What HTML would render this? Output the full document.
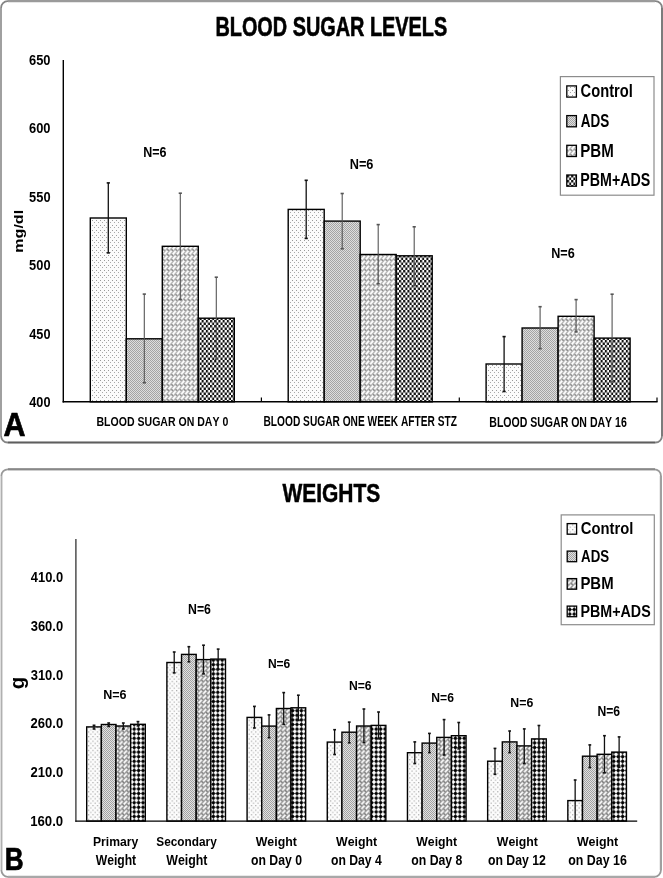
<!DOCTYPE html>
<html><head><meta charset="utf-8"><title>Blood sugar and weights</title>
<style>
html,body{margin:0;padding:0;background:#fff;}
body{width:663px;height:878px;overflow:hidden;}
svg{display:block;filter:grayscale(1);}
text{font-family:"Liberation Sans",sans-serif;font-weight:bold;font-kerning:none;font-feature-settings:"kern" 0;}
</style></head>
<body>
<svg width="663" height="878" viewBox="0 0 663 878">

<defs>
 <pattern id="pa0" width="4" height="5" patternUnits="userSpaceOnUse">
  <rect width="4" height="5" fill="#fbfbfb"/>
  <rect x="0" y="0" width="1" height="1" fill="#9a9a9a"/>
  <rect x="2" y="2" width="1" height="1" fill="#a8a8a8"/>
 </pattern>
 <pattern id="pa1" width="2" height="2" patternUnits="userSpaceOnUse">
  <rect width="2" height="2" fill="#dedede"/>
  <rect x="0" y="0" width="1" height="1" fill="#a4a4a4"/>
  <rect x="1" y="1" width="1" height="1" fill="#a4a4a4"/>
 </pattern>
 <pattern id="pa2" width="4.2" height="5" patternUnits="userSpaceOnUse">
  <rect width="4.2" height="5" fill="#b4b4b4"/>
  <g stroke="#fff" stroke-width="1.7" stroke-linecap="round">
   <path d="M0.75,4.1 L3.45,0.9"/>
  </g>
  <g fill="#5a5a5a">
   <circle cx="0" cy="0" r="0.7"/><circle cx="4.2" cy="0" r="0.7"/><circle cx="0" cy="5" r="0.7"/><circle cx="4.2" cy="5" r="0.7"/>
  </g>
 </pattern>
 <pattern id="pa3" width="4.2" height="5" patternUnits="userSpaceOnUse">
  <rect width="4.2" height="5" fill="#fff"/>
  <rect x="0" y="0" width="2.1" height="2.5" fill="#111"/>
  <rect x="2.1" y="2.5" width="2.1" height="2.5" fill="#111"/>
 </pattern>
 <pattern id="pb0" width="4.4" height="4.6" patternUnits="userSpaceOnUse">
  <rect width="4.4" height="4.6" fill="#fcfcfc"/>
  <rect x="0" y="0" width="1.2" height="1.2" fill="#a8a8a8"/>
  <rect x="2.2" y="2.3" width="1.2" height="1.2" fill="#b0b0b0"/>
 </pattern>
 <pattern id="pb1" width="2" height="2" patternUnits="userSpaceOnUse">
  <rect width="2" height="2" fill="#e2e2e2"/>
  <rect x="0" y="0" width="1" height="1" fill="#a2a2a2"/>
  <rect x="1" y="1" width="1" height="1" fill="#a2a2a2"/>
 </pattern>
 <pattern id="pb2" width="4.4" height="4.6" patternUnits="userSpaceOnUse">
  <rect width="4.4" height="4.6" fill="#9a9a9a"/>
  <g stroke="#fff" stroke-width="1.6" stroke-linecap="round">
   <path d="M0.8,3.75 L3.6,0.85"/>
  </g>
  <g fill="#4a4a4a">
   <circle cx="0" cy="0" r="0.7"/><circle cx="4.4" cy="0" r="0.7"/><circle cx="0" cy="4.6" r="0.7"/><circle cx="4.4" cy="4.6" r="0.7"/>
  </g>
 </pattern>
 <pattern id="pb3" width="4.4" height="4.6" patternUnits="userSpaceOnUse">
  <rect width="4.4" height="4.6" fill="#fff"/>
  <path d="M2.2,0.05 L4.35,2.3 L2.2,4.55 L0.05,2.3 Z" fill="#000"/>
 </pattern>
</defs>

<rect width="663" height="878" fill="#fff"/>
<rect x="1.1" y="1.2" width="660.9" height="441.3" rx="6.5" ry="6.5" fill="#fff" stroke="#858585" stroke-width="1.8"/>
<line x1="1.00" y1="8.00" x2="1.00" y2="436.00" stroke="#a0a0a0" stroke-width="2.0"/>
<line x1="8.00" y1="1.20" x2="655.00" y2="1.20" stroke="#9a9a9a" stroke-width="2.3"/>
<line x1="662.00" y1="8.00" x2="662.00" y2="436.00" stroke="#7c7c7c" stroke-width="2.0"/>
<line x1="8.00" y1="442.50" x2="655.00" y2="442.50" stroke="#5e5e5e" stroke-width="1.4"/>
<rect x="1.4" y="469.3" width="659.5" height="407.5" rx="6.5" ry="6.5" fill="#fff" stroke="#999" stroke-width="1.8"/>
<line x1="0.50" y1="476.00" x2="0.50" y2="870.00" stroke="#e4e4e4" stroke-width="1.0"/>
<line x1="1.50" y1="476.00" x2="1.50" y2="870.00" stroke="#b0b0b0" stroke-width="1.2"/>
<line x1="8.00" y1="469.30" x2="655.00" y2="469.30" stroke="#888" stroke-width="2.0"/>
<line x1="660.90" y1="476.00" x2="660.90" y2="870.00" stroke="#a0a0a0" stroke-width="2.2"/>
<line x1="8.00" y1="876.90" x2="655.00" y2="876.90" stroke="#a8a8a8" stroke-width="2.4"/>
<rect x="90.30" y="218.00" width="36.00" height="183.80" fill="url(#pa0)" stroke="#000" stroke-width="1.4"/>
<rect x="126.30" y="338.80" width="36.00" height="63.00" fill="url(#pa1)" stroke="#000" stroke-width="1.4"/>
<rect x="162.30" y="246.30" width="36.00" height="155.50" fill="url(#pa2)" stroke="#000" stroke-width="1.4"/>
<rect x="198.30" y="318.20" width="36.00" height="83.60" fill="url(#pa3)" stroke="#000" stroke-width="1.4"/>
<rect x="288.20" y="209.40" width="36.00" height="192.40" fill="url(#pa0)" stroke="#000" stroke-width="1.4"/>
<rect x="324.20" y="221.10" width="36.00" height="180.70" fill="url(#pa1)" stroke="#000" stroke-width="1.4"/>
<rect x="360.20" y="254.50" width="36.00" height="147.30" fill="url(#pa2)" stroke="#000" stroke-width="1.4"/>
<rect x="396.20" y="255.80" width="36.00" height="146.00" fill="url(#pa3)" stroke="#000" stroke-width="1.4"/>
<rect x="486.10" y="364.00" width="36.00" height="37.80" fill="url(#pa0)" stroke="#000" stroke-width="1.4"/>
<rect x="522.10" y="328.00" width="36.00" height="73.80" fill="url(#pa1)" stroke="#000" stroke-width="1.4"/>
<rect x="558.10" y="316.30" width="36.00" height="85.50" fill="url(#pa2)" stroke="#000" stroke-width="1.4"/>
<rect x="594.10" y="338.10" width="36.00" height="63.70" fill="url(#pa3)" stroke="#000" stroke-width="1.4"/>
<line x1="108.30" y1="182.90" x2="108.30" y2="252.90" stroke="#111" stroke-width="1.3"/>
<line x1="106.70" y1="182.90" x2="109.90" y2="182.90" stroke="#111" stroke-width="1.6"/>
<line x1="106.70" y1="252.90" x2="109.90" y2="252.90" stroke="#111" stroke-width="1.6"/>
<line x1="144.30" y1="294.10" x2="144.30" y2="382.80" stroke="#555" stroke-width="1.1"/>
<line x1="142.70" y1="294.10" x2="145.90" y2="294.10" stroke="#555" stroke-width="1.6"/>
<line x1="142.70" y1="382.80" x2="145.90" y2="382.80" stroke="#555" stroke-width="1.6"/>
<line x1="180.30" y1="193.20" x2="180.30" y2="299.40" stroke="#555" stroke-width="1.1"/>
<line x1="178.70" y1="193.20" x2="181.90" y2="193.20" stroke="#555" stroke-width="1.6"/>
<line x1="178.70" y1="299.40" x2="181.90" y2="299.40" stroke="#555" stroke-width="1.6"/>
<line x1="216.30" y1="277.20" x2="216.30" y2="359.20" stroke="#555" stroke-width="1.1"/>
<line x1="214.70" y1="277.20" x2="217.90" y2="277.20" stroke="#555" stroke-width="1.6"/>
<line x1="214.70" y1="359.20" x2="217.90" y2="359.20" stroke="#555" stroke-width="1.6"/>
<line x1="306.20" y1="180.30" x2="306.20" y2="238.40" stroke="#111" stroke-width="1.3"/>
<line x1="304.60" y1="180.30" x2="307.80" y2="180.30" stroke="#111" stroke-width="1.6"/>
<line x1="304.60" y1="238.40" x2="307.80" y2="238.40" stroke="#111" stroke-width="1.6"/>
<line x1="342.20" y1="193.50" x2="342.20" y2="248.80" stroke="#555" stroke-width="1.1"/>
<line x1="340.60" y1="193.50" x2="343.80" y2="193.50" stroke="#555" stroke-width="1.6"/>
<line x1="340.60" y1="248.80" x2="343.80" y2="248.80" stroke="#555" stroke-width="1.6"/>
<line x1="378.20" y1="224.60" x2="378.20" y2="283.70" stroke="#555" stroke-width="1.1"/>
<line x1="376.60" y1="224.60" x2="379.80" y2="224.60" stroke="#555" stroke-width="1.6"/>
<line x1="376.60" y1="283.70" x2="379.80" y2="283.70" stroke="#555" stroke-width="1.6"/>
<line x1="414.20" y1="226.80" x2="414.20" y2="285.70" stroke="#555" stroke-width="1.1"/>
<line x1="412.60" y1="226.80" x2="415.80" y2="226.80" stroke="#555" stroke-width="1.6"/>
<line x1="412.60" y1="285.70" x2="415.80" y2="285.70" stroke="#555" stroke-width="1.6"/>
<line x1="504.10" y1="336.60" x2="504.10" y2="391.50" stroke="#111" stroke-width="1.3"/>
<line x1="502.50" y1="336.60" x2="505.70" y2="336.60" stroke="#111" stroke-width="1.6"/>
<line x1="502.50" y1="391.50" x2="505.70" y2="391.50" stroke="#111" stroke-width="1.6"/>
<line x1="540.10" y1="306.70" x2="540.10" y2="348.70" stroke="#555" stroke-width="1.1"/>
<line x1="538.50" y1="306.70" x2="541.70" y2="306.70" stroke="#555" stroke-width="1.6"/>
<line x1="538.50" y1="348.70" x2="541.70" y2="348.70" stroke="#555" stroke-width="1.6"/>
<line x1="576.10" y1="299.60" x2="576.10" y2="331.90" stroke="#555" stroke-width="1.1"/>
<line x1="574.50" y1="299.60" x2="577.70" y2="299.60" stroke="#555" stroke-width="1.6"/>
<line x1="574.50" y1="331.90" x2="577.70" y2="331.90" stroke="#555" stroke-width="1.6"/>
<line x1="612.10" y1="294.20" x2="612.10" y2="382.00" stroke="#555" stroke-width="1.1"/>
<line x1="610.50" y1="294.20" x2="613.70" y2="294.20" stroke="#555" stroke-width="1.6"/>
<line x1="610.50" y1="382.00" x2="613.70" y2="382.00" stroke="#555" stroke-width="1.6"/>
<line x1="63.30" y1="60.00" x2="63.30" y2="402.50" stroke="#000" stroke-width="1.4"/>
<line x1="62.60" y1="401.80" x2="657.60" y2="401.80" stroke="#000" stroke-width="1.4"/>
<line x1="261.40" y1="397.60" x2="261.40" y2="401.80" stroke="#000" stroke-width="1.2"/>
<line x1="459.30" y1="397.60" x2="459.30" y2="401.80" stroke="#000" stroke-width="1.2"/>
<line x1="657.00" y1="397.60" x2="657.00" y2="401.80" stroke="#000" stroke-width="1.2"/>
<text transform="translate(29.03,65.05) scale(0.8286,1)" font-size="15.55" fill="#000">650</text>
<text transform="translate(29.03,133.47) scale(0.8286,1)" font-size="15.55" fill="#000">600</text>
<text transform="translate(29.11,201.89) scale(0.8255,1)" font-size="15.55" fill="#000">550</text>
<text transform="translate(29.11,270.31) scale(0.8255,1)" font-size="15.55" fill="#000">500</text>
<text transform="translate(29.31,338.73) scale(0.8175,1)" font-size="15.55" fill="#000">450</text>
<text transform="translate(29.31,407.15) scale(0.8175,1)" font-size="15.55" fill="#000">400</text>
<text transform="translate(215.41,35.90) scale(0.7353,1)" font-size="27.04" fill="#000" stroke="#000" stroke-width="0.6">BLOOD SUGAR LEVELS</text>
<text transform="translate(23.20,252.66) rotate(-90) scale(1.3055,1)" font-size="12.29" fill="#000">mg/dl</text>
<text transform="translate(143.16,156.60) scale(0.8435,1)" font-size="14.83" fill="#000">N=6</text>
<text transform="translate(349.75,169.20) scale(0.8505,1)" font-size="14.97" fill="#000">N=6</text>
<text transform="translate(551.26,257.90) scale(0.8348,1)" font-size="15.12" fill="#000">N=6</text>
<text transform="translate(96.49,426.40) scale(0.7731,1)" font-size="13.66" fill="#000">BLOOD SUGAR ON DAY 0</text>
<text transform="translate(263.52,426.40) scale(0.7374,1)" font-size="13.81" fill="#000">BLOOD SUGAR ONE WEEK AFTER STZ</text>
<text transform="translate(489.29,426.50) scale(0.7637,1)" font-size="13.81" fill="#000">BLOOD SUGAR ON DAY 16</text>
<text transform="translate(3.42,436.15) scale(0.9357,1)" font-size="32.56" fill="#000" stroke="#000" stroke-width="0.7">A</text>
<rect x="560.4" y="76.6" width="93.6" height="118.6" fill="#fff" stroke="#8c8c8c" stroke-width="1.2"/>
<rect x="566.80" y="85.90" width="9.60" height="11.20" fill="url(#pa0)" stroke="#000" stroke-width="1.3"/>
<text transform="translate(580.60,97.10) scale(0.8221,1)" font-size="17.88" fill="#000">Control</text>
<rect x="566.80" y="115.60" width="9.60" height="11.20" fill="url(#pa1)" stroke="#000" stroke-width="1.3"/>
<text transform="translate(580.86,126.80) scale(0.7540,1)" font-size="17.88" fill="#000">ADS</text>
<rect x="566.80" y="145.30" width="9.60" height="11.20" fill="url(#pa2)" stroke="#000" stroke-width="1.3"/>
<text transform="translate(580.19,156.50) scale(0.8437,1)" font-size="17.88" fill="#000">PBM</text>
<rect x="566.80" y="175.00" width="9.60" height="11.20" fill="url(#pa3)" stroke="#000" stroke-width="1.3"/>
<text transform="translate(580.25,186.20) scale(0.7963,1)" font-size="17.88" fill="#000">PBM+ADS</text>
<rect x="86.70" y="726.90" width="14.65" height="94.20" fill="url(#pb0)" stroke="#000" stroke-width="1.4"/>
<rect x="101.35" y="724.50" width="14.65" height="96.60" fill="url(#pb1)" stroke="#000" stroke-width="1.4"/>
<rect x="116.00" y="726.00" width="14.65" height="95.10" fill="url(#pb2)" stroke="#000" stroke-width="1.4"/>
<rect x="130.65" y="724.30" width="14.65" height="96.80" fill="url(#pb3)" stroke="#000" stroke-width="1.4"/>
<rect x="166.89" y="662.50" width="14.65" height="158.60" fill="url(#pb0)" stroke="#000" stroke-width="1.4"/>
<rect x="181.54" y="654.40" width="14.65" height="166.70" fill="url(#pb1)" stroke="#000" stroke-width="1.4"/>
<rect x="196.19" y="659.60" width="14.65" height="161.50" fill="url(#pb2)" stroke="#000" stroke-width="1.4"/>
<rect x="210.84" y="659.10" width="14.65" height="162.00" fill="url(#pb3)" stroke="#000" stroke-width="1.4"/>
<rect x="247.08" y="717.40" width="14.65" height="103.70" fill="url(#pb0)" stroke="#000" stroke-width="1.4"/>
<rect x="261.73" y="726.10" width="14.65" height="95.00" fill="url(#pb1)" stroke="#000" stroke-width="1.4"/>
<rect x="276.38" y="708.50" width="14.65" height="112.60" fill="url(#pb2)" stroke="#000" stroke-width="1.4"/>
<rect x="291.03" y="707.80" width="14.65" height="113.30" fill="url(#pb3)" stroke="#000" stroke-width="1.4"/>
<rect x="327.27" y="742.10" width="14.65" height="79.00" fill="url(#pb0)" stroke="#000" stroke-width="1.4"/>
<rect x="341.92" y="732.20" width="14.65" height="88.90" fill="url(#pb1)" stroke="#000" stroke-width="1.4"/>
<rect x="356.57" y="726.00" width="14.65" height="95.10" fill="url(#pb2)" stroke="#000" stroke-width="1.4"/>
<rect x="371.22" y="725.40" width="14.65" height="95.70" fill="url(#pb3)" stroke="#000" stroke-width="1.4"/>
<rect x="407.46" y="752.70" width="14.65" height="68.40" fill="url(#pb0)" stroke="#000" stroke-width="1.4"/>
<rect x="422.11" y="743.10" width="14.65" height="78.00" fill="url(#pb1)" stroke="#000" stroke-width="1.4"/>
<rect x="436.76" y="737.40" width="14.65" height="83.70" fill="url(#pb2)" stroke="#000" stroke-width="1.4"/>
<rect x="451.41" y="735.70" width="14.65" height="85.40" fill="url(#pb3)" stroke="#000" stroke-width="1.4"/>
<rect x="487.65" y="761.20" width="14.65" height="59.90" fill="url(#pb0)" stroke="#000" stroke-width="1.4"/>
<rect x="502.30" y="741.90" width="14.65" height="79.20" fill="url(#pb1)" stroke="#000" stroke-width="1.4"/>
<rect x="516.95" y="745.90" width="14.65" height="75.20" fill="url(#pb2)" stroke="#000" stroke-width="1.4"/>
<rect x="531.60" y="738.90" width="14.65" height="82.20" fill="url(#pb3)" stroke="#000" stroke-width="1.4"/>
<rect x="567.84" y="800.60" width="14.65" height="20.50" fill="url(#pb0)" stroke="#000" stroke-width="1.4"/>
<rect x="582.49" y="756.20" width="14.65" height="64.90" fill="url(#pb1)" stroke="#000" stroke-width="1.4"/>
<rect x="597.14" y="754.30" width="14.65" height="66.80" fill="url(#pb2)" stroke="#000" stroke-width="1.4"/>
<rect x="611.79" y="752.10" width="14.65" height="69.00" fill="url(#pb3)" stroke="#000" stroke-width="1.4"/>
<line x1="94.03" y1="725.30" x2="94.03" y2="729.00" stroke="#111" stroke-width="1.3"/>
<line x1="92.62" y1="725.30" x2="95.43" y2="725.30" stroke="#111" stroke-width="1.6"/>
<line x1="92.62" y1="729.00" x2="95.43" y2="729.00" stroke="#111" stroke-width="1.6"/>
<line x1="108.68" y1="723.00" x2="108.68" y2="726.40" stroke="#111" stroke-width="1.3"/>
<line x1="107.28" y1="723.00" x2="110.08" y2="723.00" stroke="#111" stroke-width="1.6"/>
<line x1="107.28" y1="726.40" x2="110.08" y2="726.40" stroke="#111" stroke-width="1.6"/>
<line x1="123.33" y1="723.00" x2="123.33" y2="729.00" stroke="#111" stroke-width="1.3"/>
<line x1="121.92" y1="723.00" x2="124.73" y2="723.00" stroke="#111" stroke-width="1.6"/>
<line x1="121.92" y1="729.00" x2="124.73" y2="729.00" stroke="#111" stroke-width="1.6"/>
<line x1="137.97" y1="721.60" x2="137.97" y2="725.90" stroke="#111" stroke-width="1.3"/>
<line x1="136.57" y1="721.60" x2="139.38" y2="721.60" stroke="#111" stroke-width="1.6"/>
<line x1="136.57" y1="725.90" x2="139.38" y2="725.90" stroke="#111" stroke-width="1.6"/>
<line x1="174.22" y1="652.00" x2="174.22" y2="672.90" stroke="#111" stroke-width="1.3"/>
<line x1="172.81" y1="652.00" x2="175.62" y2="652.00" stroke="#111" stroke-width="1.6"/>
<line x1="172.81" y1="672.90" x2="175.62" y2="672.90" stroke="#111" stroke-width="1.6"/>
<line x1="188.87" y1="646.70" x2="188.87" y2="661.80" stroke="#111" stroke-width="1.3"/>
<line x1="187.47" y1="646.70" x2="190.27" y2="646.70" stroke="#111" stroke-width="1.6"/>
<line x1="187.47" y1="661.80" x2="190.27" y2="661.80" stroke="#111" stroke-width="1.6"/>
<line x1="203.52" y1="645.20" x2="203.52" y2="673.90" stroke="#111" stroke-width="1.3"/>
<line x1="202.12" y1="645.20" x2="204.92" y2="645.20" stroke="#111" stroke-width="1.6"/>
<line x1="202.12" y1="673.90" x2="204.92" y2="673.90" stroke="#111" stroke-width="1.6"/>
<line x1="218.17" y1="649.10" x2="218.17" y2="669.10" stroke="#111" stroke-width="1.3"/>
<line x1="216.77" y1="649.10" x2="219.57" y2="649.10" stroke="#111" stroke-width="1.6"/>
<line x1="216.77" y1="669.10" x2="219.57" y2="669.10" stroke="#111" stroke-width="1.6"/>
<line x1="254.41" y1="706.40" x2="254.41" y2="728.00" stroke="#111" stroke-width="1.3"/>
<line x1="253.00" y1="706.40" x2="255.81" y2="706.40" stroke="#111" stroke-width="1.6"/>
<line x1="253.00" y1="728.00" x2="255.81" y2="728.00" stroke="#111" stroke-width="1.6"/>
<line x1="269.06" y1="714.90" x2="269.06" y2="737.70" stroke="#111" stroke-width="1.3"/>
<line x1="267.66" y1="714.90" x2="270.45" y2="714.90" stroke="#111" stroke-width="1.6"/>
<line x1="267.66" y1="737.70" x2="270.45" y2="737.70" stroke="#111" stroke-width="1.6"/>
<line x1="283.70" y1="692.60" x2="283.70" y2="724.40" stroke="#111" stroke-width="1.3"/>
<line x1="282.31" y1="692.60" x2="285.10" y2="692.60" stroke="#111" stroke-width="1.6"/>
<line x1="282.31" y1="724.40" x2="285.10" y2="724.40" stroke="#111" stroke-width="1.6"/>
<line x1="298.36" y1="695.20" x2="298.36" y2="720.40" stroke="#111" stroke-width="1.3"/>
<line x1="296.96" y1="695.20" x2="299.75" y2="695.20" stroke="#111" stroke-width="1.6"/>
<line x1="296.96" y1="720.40" x2="299.75" y2="720.40" stroke="#111" stroke-width="1.6"/>
<line x1="334.60" y1="729.70" x2="334.60" y2="754.50" stroke="#111" stroke-width="1.3"/>
<line x1="333.20" y1="729.70" x2="336.00" y2="729.70" stroke="#111" stroke-width="1.6"/>
<line x1="333.20" y1="754.50" x2="336.00" y2="754.50" stroke="#111" stroke-width="1.6"/>
<line x1="349.25" y1="722.10" x2="349.25" y2="742.80" stroke="#111" stroke-width="1.3"/>
<line x1="347.85" y1="722.10" x2="350.64" y2="722.10" stroke="#111" stroke-width="1.6"/>
<line x1="347.85" y1="742.80" x2="350.64" y2="742.80" stroke="#111" stroke-width="1.6"/>
<line x1="363.90" y1="709.00" x2="363.90" y2="742.60" stroke="#111" stroke-width="1.3"/>
<line x1="362.50" y1="709.00" x2="365.30" y2="709.00" stroke="#111" stroke-width="1.6"/>
<line x1="362.50" y1="742.60" x2="365.30" y2="742.60" stroke="#111" stroke-width="1.6"/>
<line x1="378.55" y1="712.00" x2="378.55" y2="738.80" stroke="#111" stroke-width="1.3"/>
<line x1="377.15" y1="712.00" x2="379.94" y2="712.00" stroke="#111" stroke-width="1.6"/>
<line x1="377.15" y1="738.80" x2="379.94" y2="738.80" stroke="#111" stroke-width="1.6"/>
<line x1="414.78" y1="741.90" x2="414.78" y2="763.50" stroke="#111" stroke-width="1.3"/>
<line x1="413.38" y1="741.90" x2="416.18" y2="741.90" stroke="#111" stroke-width="1.6"/>
<line x1="413.38" y1="763.50" x2="416.18" y2="763.50" stroke="#111" stroke-width="1.6"/>
<line x1="429.43" y1="733.40" x2="429.43" y2="752.60" stroke="#111" stroke-width="1.3"/>
<line x1="428.03" y1="733.40" x2="430.83" y2="733.40" stroke="#111" stroke-width="1.6"/>
<line x1="428.03" y1="752.60" x2="430.83" y2="752.60" stroke="#111" stroke-width="1.6"/>
<line x1="444.08" y1="719.60" x2="444.08" y2="755.00" stroke="#111" stroke-width="1.3"/>
<line x1="442.69" y1="719.60" x2="445.48" y2="719.60" stroke="#111" stroke-width="1.6"/>
<line x1="442.69" y1="755.00" x2="445.48" y2="755.00" stroke="#111" stroke-width="1.6"/>
<line x1="458.73" y1="722.50" x2="458.73" y2="748.90" stroke="#111" stroke-width="1.3"/>
<line x1="457.33" y1="722.50" x2="460.13" y2="722.50" stroke="#111" stroke-width="1.6"/>
<line x1="457.33" y1="748.90" x2="460.13" y2="748.90" stroke="#111" stroke-width="1.6"/>
<line x1="494.98" y1="748.40" x2="494.98" y2="774.30" stroke="#111" stroke-width="1.3"/>
<line x1="493.58" y1="748.40" x2="496.38" y2="748.40" stroke="#111" stroke-width="1.6"/>
<line x1="493.58" y1="774.30" x2="496.38" y2="774.30" stroke="#111" stroke-width="1.6"/>
<line x1="509.62" y1="731.00" x2="509.62" y2="752.60" stroke="#111" stroke-width="1.3"/>
<line x1="508.23" y1="731.00" x2="511.02" y2="731.00" stroke="#111" stroke-width="1.6"/>
<line x1="508.23" y1="752.60" x2="511.02" y2="752.60" stroke="#111" stroke-width="1.6"/>
<line x1="524.28" y1="728.90" x2="524.28" y2="763.50" stroke="#111" stroke-width="1.3"/>
<line x1="522.88" y1="728.90" x2="525.68" y2="728.90" stroke="#111" stroke-width="1.6"/>
<line x1="522.88" y1="763.50" x2="525.68" y2="763.50" stroke="#111" stroke-width="1.6"/>
<line x1="538.93" y1="725.50" x2="538.93" y2="752.30" stroke="#111" stroke-width="1.3"/>
<line x1="537.53" y1="725.50" x2="540.33" y2="725.50" stroke="#111" stroke-width="1.6"/>
<line x1="537.53" y1="752.30" x2="540.33" y2="752.30" stroke="#111" stroke-width="1.6"/>
<line x1="575.16" y1="780.00" x2="575.16" y2="821.20" stroke="#111" stroke-width="1.3"/>
<line x1="573.76" y1="780.00" x2="576.56" y2="780.00" stroke="#111" stroke-width="1.6"/>
<line x1="573.76" y1="821.20" x2="576.56" y2="821.20" stroke="#111" stroke-width="1.6"/>
<line x1="589.81" y1="744.90" x2="589.81" y2="767.60" stroke="#111" stroke-width="1.3"/>
<line x1="588.41" y1="744.90" x2="591.21" y2="744.90" stroke="#111" stroke-width="1.6"/>
<line x1="588.41" y1="767.60" x2="591.21" y2="767.60" stroke="#111" stroke-width="1.6"/>
<line x1="604.46" y1="735.70" x2="604.46" y2="772.80" stroke="#111" stroke-width="1.3"/>
<line x1="603.06" y1="735.70" x2="605.86" y2="735.70" stroke="#111" stroke-width="1.6"/>
<line x1="603.06" y1="772.80" x2="605.86" y2="772.80" stroke="#111" stroke-width="1.6"/>
<line x1="619.12" y1="736.90" x2="619.12" y2="767.30" stroke="#111" stroke-width="1.3"/>
<line x1="617.72" y1="736.90" x2="620.51" y2="736.90" stroke="#111" stroke-width="1.6"/>
<line x1="617.72" y1="767.30" x2="620.51" y2="767.30" stroke="#111" stroke-width="1.6"/>
<line x1="75.90" y1="539.00" x2="75.90" y2="821.80" stroke="#333" stroke-width="1.3"/>
<line x1="75.30" y1="821.10" x2="637.20" y2="821.10" stroke="#000" stroke-width="1.4"/>
<text transform="translate(30.80,582.20) scale(0.8887,1)" font-size="14.54" fill="#000">410.0</text>
<text transform="translate(30.70,630.94) scale(0.8916,1)" font-size="14.54" fill="#000">360.0</text>
<text transform="translate(30.70,679.68) scale(0.8916,1)" font-size="14.54" fill="#000">310.0</text>
<text transform="translate(30.55,728.42) scale(0.8959,1)" font-size="14.54" fill="#000">260.0</text>
<text transform="translate(30.55,777.16) scale(0.8959,1)" font-size="14.54" fill="#000">210.0</text>
<text transform="translate(30.17,825.90) scale(0.9064,1)" font-size="14.54" fill="#000">160.0</text>
<text transform="translate(282.38,501.55) scale(0.8395,1)" font-size="25.00" fill="#000" stroke="#000" stroke-width="0.5">WEIGHTS</text>
<text transform="translate(23.85,689.24) rotate(-90) scale(1.0455,1)" font-size="19.59" fill="#000">g</text>
<text transform="translate(103.16,699.00) scale(0.9293,1)" font-size="13.52" fill="#000">N=6</text>
<text transform="translate(188.08,614.10) scale(0.8708,1)" font-size="14.10" fill="#000">N=6</text>
<text transform="translate(267.89,668.40) scale(0.8820,1)" font-size="13.66" fill="#000">N=6</text>
<text transform="translate(348.89,690.40) scale(0.8903,1)" font-size="13.66" fill="#000">N=6</text>
<text transform="translate(431.29,702.30) scale(0.8999,1)" font-size="13.52" fill="#000">N=6</text>
<text transform="translate(510.37,706.70) scale(0.9125,1)" font-size="13.52" fill="#000">N=6</text>
<text transform="translate(597.49,716.30) scale(0.8628,1)" font-size="14.10" fill="#000">N=6</text>
<text transform="translate(92.98,845.50) scale(0.9418,1)" font-size="12.94" fill="#000">Primary</text>
<text transform="translate(156.26,845.50) scale(0.9147,1)" font-size="12.94" fill="#000">Secondary</text>
<text transform="translate(255.69,845.50) scale(0.9548,1)" font-size="12.94" fill="#000">Weight</text>
<text transform="translate(335.99,845.50) scale(0.9548,1)" font-size="12.94" fill="#000">Weight</text>
<text transform="translate(416.29,845.50) scale(0.9478,1)" font-size="12.94" fill="#000">Weight</text>
<text transform="translate(496.79,845.50) scale(0.9502,1)" font-size="12.94" fill="#000">Weight</text>
<text transform="translate(576.89,845.50) scale(0.9595,1)" font-size="12.94" fill="#000">Weight</text>
<text transform="translate(95.69,864.60) scale(0.8701,1)" font-size="13.95" fill="#000">Weight</text>
<text transform="translate(166.29,864.60) scale(0.8852,1)" font-size="13.95" fill="#000">Weight</text>
<text transform="translate(251.02,864.60) scale(0.8766,1)" font-size="13.95" fill="#000">on Day 0</text>
<text transform="translate(331.02,864.60) scale(0.8742,1)" font-size="13.95" fill="#000">on Day 4</text>
<text transform="translate(411.32,864.60) scale(0.8796,1)" font-size="13.95" fill="#000">on Day 8</text>
<text transform="translate(487.92,864.60) scale(0.8794,1)" font-size="13.95" fill="#000">on Day 12</text>
<text transform="translate(568.22,864.60) scale(0.8895,1)" font-size="13.95" fill="#000">on Day 16</text>
<text transform="translate(4.63,869.55) scale(0.8100,1)" font-size="32.27" fill="#000" stroke="#000" stroke-width="0.7">B</text>
<rect x="561.2" y="514.9" width="93.1" height="109.8" fill="#fff" stroke="#8c8c8c" stroke-width="1.2"/>
<rect x="567.20" y="523.60" width="9.40" height="10.60" fill="url(#pb0)" stroke="#000" stroke-width="1.3"/>
<text transform="translate(580.79,534.00) scale(0.8620,1)" font-size="17.15" fill="#000">Control</text>
<rect x="567.20" y="551.10" width="9.40" height="10.60" fill="url(#pb1)" stroke="#000" stroke-width="1.3"/>
<text transform="translate(581.07,561.50) scale(0.7746,1)" font-size="17.15" fill="#000">ADS</text>
<rect x="567.20" y="578.60" width="9.40" height="10.60" fill="url(#pb2)" stroke="#000" stroke-width="1.3"/>
<text transform="translate(580.40,589.00) scale(0.8711,1)" font-size="17.15" fill="#000">PBM</text>
<rect x="567.20" y="606.10" width="9.40" height="10.60" fill="url(#pb3)" stroke="#000" stroke-width="1.3"/>
<text transform="translate(580.44,616.50) scale(0.8337,1)" font-size="17.15" fill="#000">PBM+ADS</text>
</svg>
</body></html>
